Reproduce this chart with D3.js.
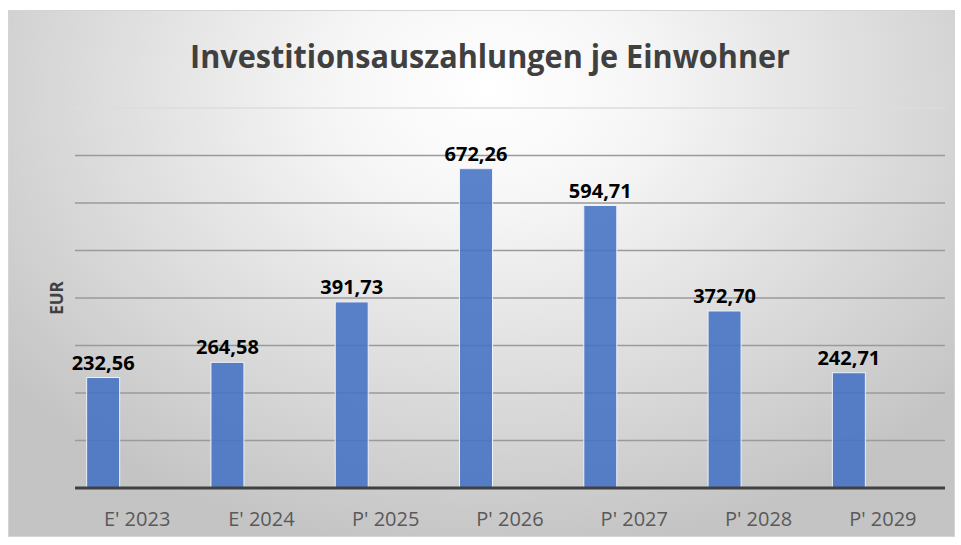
<!DOCTYPE html>
<html><head><meta charset="utf-8">
<script src="https://cdn.jsdelivr.net/npm/d3@7"></script>
<style>body{margin:0;background:#fff}svg{display:block}</style>
</head><body>
<script>
const categories = ["E' 2023","E' 2024","P' 2025","P' 2026","P' 2027","P' 2028","P' 2029"];
const values = [232.56, 264.58, 391.73, 672.26, 594.71, 372.70, 242.71];
const yTicks = [0,100,200,300,400,500,600,700,800];
const title = "Investitionsauszahlungen je Einwohner";
const yTitle = "EUR";

const W = 961, H = 545;
const svg = d3.select("body").append("svg").attr("width", W).attr("height", H);
const defs = svg.append("defs");
const grad = defs.append("radialGradient").attr("id","bg")
  .attr("gradientUnits","userSpaceOnUse").attr("cx",490).attr("cy",90).attr("r",620)
  .attr("gradientTransform","translate(490,90) scale(1,0.75) translate(-490,-90)");
grad.append("stop").attr("offset","0").attr("stop-color","#ffffff");
grad.append("stop").attr("offset","0.25").attr("stop-color","#f6f6f6");
grad.append("stop").attr("offset","1").attr("stop-color","#c4c4c4");

svg.append("rect").attr("x",8.5).attr("y",10.5).attr("width",946).attr("height",526)
  .attr("fill","url(#bg)").attr("stroke","#d4d4d4").attr("stroke-width",1);

const m = {l:75, r:945, t:108, b:488};
const x = d3.scaleBand().domain(categories).range([m.l, m.r]);
const y = d3.scaleLinear().domain([0,800]).range([m.b, m.t]);
const barW = 33;

svg.append("g").selectAll("line").data(yTicks.slice(1)).join("line")
  .attr("x1",m.l).attr("x2",m.r).attr("y1",d=>y(d)).attr("y2",d=>y(d))
  .attr("stroke",(d)=> d===800 ? "#dcdcdc" : "#9a9a9a").attr("stroke-width",1.3);

const cx = d => x(d) + x.bandwidth()/2;
const barC = i => cx(categories[i]) - barW - 1;
svg.append("g").selectAll("rect").data(values).join("rect")
  .attr("x",(d,i)=>barC(i) - barW/2)
  .attr("width",barW)
  .attr("y",d=>y(d)).attr("height",d=>y(0)-y(d))
  .attr("fill","#4472c4").attr("fill-opacity",0.88)
  .attr("stroke","#eef2fa").attr("stroke-width",1);

svg.append("line").attr("x1",m.l).attr("x2",m.r).attr("y1",y(0)).attr("y2",y(0))
  .attr("stroke","#404040").attr("stroke-width",3);

svg.append("g").selectAll("text").data(values).join("text")
  .attr("x",(d,i)=>barC(i))
  .attr("y",d=>y(d)-8)
  .attr("text-anchor","middle")
  .attr("font-family","'Open Sans', sans-serif").attr("font-weight","bold")
  .attr("font-size",20).attr("fill","#000")
  .text(d=>d.toFixed(2).replace(".",","));

const xAxis = svg.append("g").attr("transform",`translate(0,${y(0)})`)
  .call(d3.axisBottom(x).tickSize(0).tickPadding(0));
xAxis.select(".domain").remove();
xAxis.selectAll("text").attr("dy",0).attr("y",38)
  .attr("font-family","'Open Sans', sans-serif").attr("font-size",20).attr("fill","#595959");

svg.append("text").attr("x",490).attr("y",68).attr("text-anchor","middle")
  .attr("font-family","'Open Sans', sans-serif").attr("font-weight","bold")
  .attr("font-size",32).attr("fill","#404040")
  .attr("textLength",600).attr("lengthAdjust","spacingAndGlyphs").text(title);

svg.append("text").attr("transform","translate(63,298) rotate(-90)")
  .attr("text-anchor","middle")
  .attr("font-family","'Open Sans', sans-serif").attr("font-weight","bold")
  .attr("font-size",17).attr("fill","#404040").text(yTitle);
</script>
</body></html>
